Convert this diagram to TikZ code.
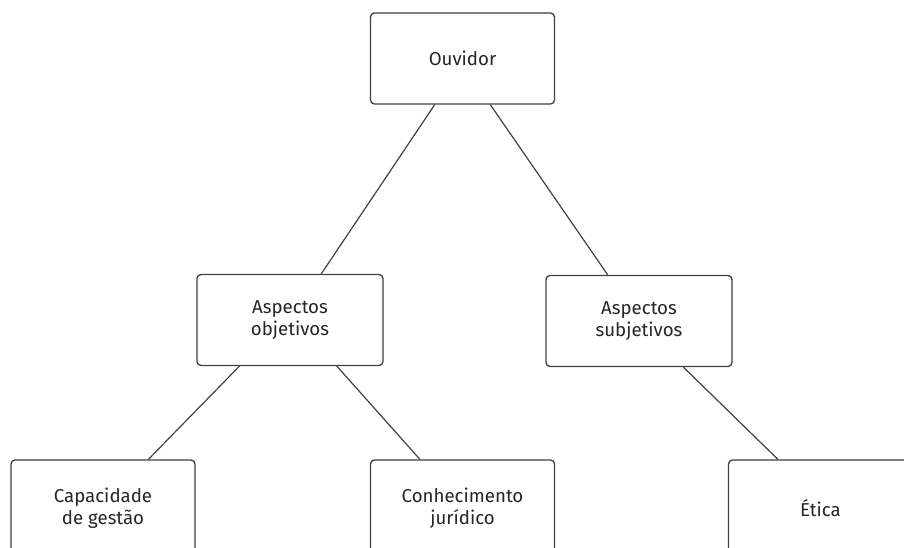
\documentclass[tikz,border=0pt]{standalone}
\usepackage{fontspec}
\setmainfont{Fira Sans}
\usetikzlibrary{calc}
\definecolor{boxline}{HTML}{404040}
\definecolor{txt}{HTML}{262626}
\begin{document}
\begin{tikzpicture}[x=0.75pt,y=-0.75pt,
  box/.style={draw=boxline,line width=1pt,rounded corners=3pt,fill=white,
    minimum width=184*0.75pt,minimum height=91*0.75pt,inner sep=0pt,
    align=center,text=txt,font=\fontsize{14pt}{16.5pt}\selectfont},
  lowbox/.style={box,minimum height=96*0.75pt},
  link/.style={draw=boxline,line width=0.9pt}]
\useasboundingbox (0,0) rectangle (904,548);
\clip (0,0) rectangle (904,548);
\node[box] (ouv) at (462.5,58.5) {Ouvidor};
\node[box,minimum width=186*0.75pt] (obj) at (290,320) {Aspectos\\objetivos};
\node[box,minimum width=186*0.75pt] (sub) at (639,321) {Aspectos\\subjetivos};
\node[lowbox] (cap) at (103,508) {Capacidade\\de gestão};
\node[lowbox] (con) at (462.5,508) {Conhecimento\\jurídico};
\node[lowbox] (eti) at (820.5,508) {Ética};
\draw[link] ($(ouv.south west)!0.35!(ouv.south east)$) -- ($(obj.north west)!0.667!(obj.north east)$);
\draw[link] ($(ouv.south west)!0.65!(ouv.south east)$) -- ($(sub.north west)!0.333!(sub.north east)$);
\draw[link] ($(obj.south west)!0.23!(obj.south east)$) -- ($(cap.north west)!0.745!(cap.north east)$);
\draw[link] ($(obj.south west)!0.75!(obj.south east)$) -- ($(con.north west)!0.27!(con.north east)$);
\draw[link] ($(sub.south west)!0.737!(sub.south east)$) -- ($(eti.north west)!0.27!(eti.north east)$);
\end{tikzpicture}
\end{document}
